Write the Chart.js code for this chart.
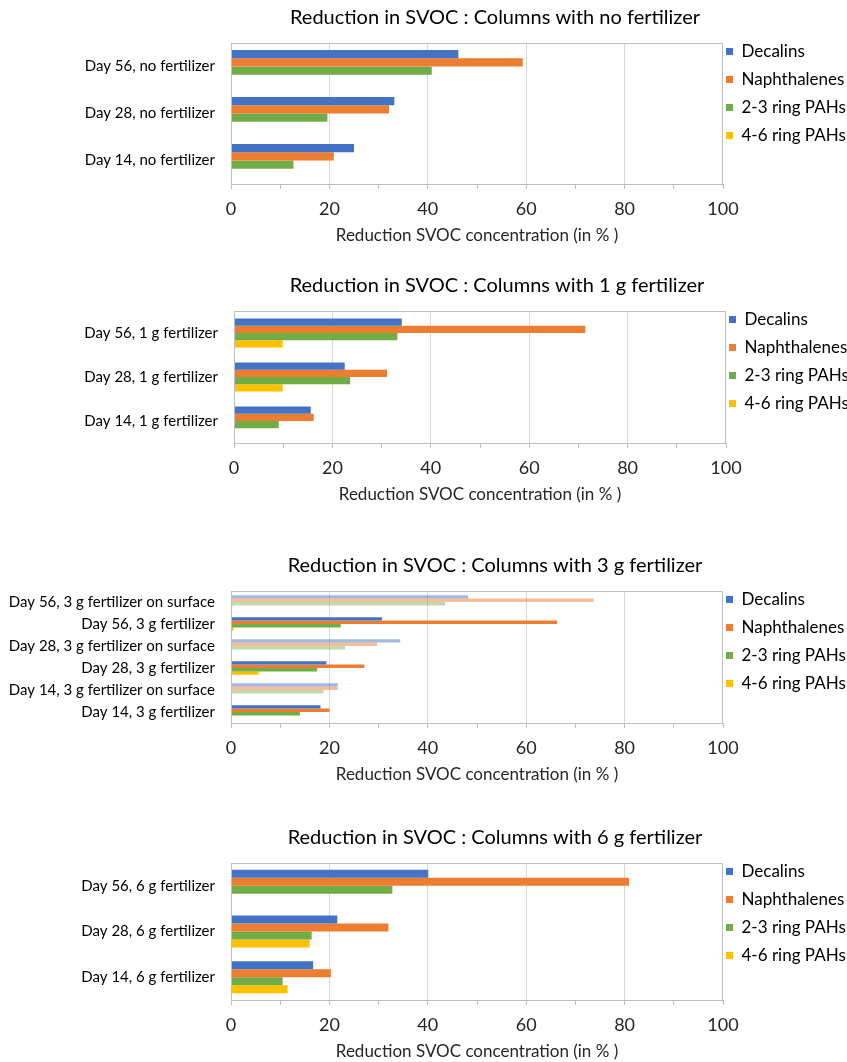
<!DOCTYPE html>
<html>
<head>
<meta charset="utf-8">
<title>Reduction in SVOC</title>
<script src="https://cdn.jsdelivr.net/npm/chart.js@4.4.1/dist/chart.umd.min.js"></script>
<style>
  html, body { margin: 0; padding: 0; background: #ffffff; overflow: hidden; width: 847px; height: 1062px; }
  canvas { position: absolute; left: 0; }
</style>
</head>
<body>
<canvas id="chartNone" width="990" height="250" style="top:0px"></canvas>
<canvas id="chart1g" width="994" height="241" style="top:268px"></canvas>
<canvas id="chart3g" width="990" height="241" style="top:548px"></canvas>
<canvas id="chart6g" width="990" height="246" style="top:820px"></canvas>
<script>
"use strict";

const seriesNames = ["Decalins", "Naphthalenes", "2-3 ring PAHs", "4-6 ring PAHs"];
const seriesColors = ["#4472C4", "#ED7D31", "#70AD47", "#FFC000"];
const seriesLight = ["rgba(68,114,196,0.5)", "rgba(237,125,49,0.5)", "rgba(112,173,71,0.45)", "rgba(255,192,0,0.5)"];
const xTickLabels = [0, 20, 40, 60, 80, 100];
const xAxisTitle = "Reduction SVOC concentration (in % )";

// no fertilizer
const labelsNone = ["Day 56, no fertilizer", "Day 28, no fertilizer", "Day 14, no fertilizer"];
const decalinsNone = [46.2, 33.2, 25.0];
const naphNone = [59.3, 32.1, 20.9];
const pah23None = [40.8, 19.6, 12.7];
const pah46None = [0, 0, 0];

// 1 g fertilizer
const labels1g = ["Day 56, 1 g fertilizer", "Day 28, 1 g fertilizer", "Day 14, 1 g fertilizer"];
const decalins1g = [34.1, 22.5, 15.6];
const naph1g = [71.4, 31.1, 16.2];
const pah23_1g = [33.2, 23.6, 9.1];
const pah46_1g = [9.9, 9.9, 0];

// 3 g fertilizer
const labels3g = [
    "Day 56, 3 g fertilizer on surface",
    "Day 56, 3 g fertilizer",
    "Day 28, 3 g fertilizer on surface",
    "Day 28, 3 g fertilizer",
    "Day 14, 3 g fertilizer on surface",
    "Day 14, 3 g fertilizer",
];
const decalins3g = [48.2, 30.7, 34.4, 19.4, 21.7, 18.2];
const naph3g = [73.7, 66.3, 29.7, 27.1, 21.7, 20.0];
const pah23_3g = [43.5, 22.3, 23.2, 17.5, 18.8, 14.0];
const pah46_3g = [0.3, 0.5, 0, 5.6, 0, 0];

// 6 g fertilizer
const labels6g = ["Day 56, 6 g fertilizer", "Day 28, 6 g fertilizer", "Day 14, 6 g fertilizer"];
const decalins6g = [40.1, 21.6, 16.7];
const naph6g = [80.9, 32.0, 20.3];
const pah23_6g = [32.8, 16.4, 10.5];
const pah46_6g = [0, 16.0, 11.5];

Chart.defaults.font.family = "Lato, 'Open Sans', sans-serif";
Chart.defaults.color = "#262626";

const LEGEND_W = 124;

// grey box round the plot area
const plotFrame = {
    id: "plotFrame",
    afterDraw(chart) {
        const {ctx, chartArea} = chart;
        ctx.save();
        ctx.strokeStyle = "#bfbfbf";
        ctx.lineWidth = 1;
        ctx.strokeRect(Math.round(chartArea.left) + 0.5, Math.round(chartArea.top) + 0.5,
            Math.round(chartArea.width) - 1, Math.round(chartArea.height));
        ctx.restore();
    }
};

// put the legend right next to the plot, top aligned
const legendNudge = {
    id: "legendNudge",
    afterLayout(chart, args, opts) {
        const lg = chart.legend;
        const h = lg.bottom - lg.top;
        lg.left = chart.chartArea.right + opts.gap - lg.options.labels.padding;
        lg.right = lg.left + 300;
        lg.top = opts.top;
        lg.bottom = lg.top + h;
    }
};

const isSurface = (label) => label.indexOf("on surface") !== -1;

const buildChart = (canvasId, title, labels, values, plotLeft, plotRight, catPct) => {
    const canvas = document.getElementById(canvasId);
    const spacer = canvas.width - plotRight - LEGEND_W;
    return new Chart(canvas, {
        type: "bar",
        data: {
            labels: labels,
            datasets: seriesNames.map((name, i) => ({
                label: name,
                data: values[i],
                backgroundColor: (ctx) => {
                    if (ctx.type === "data" && isSurface(labels[ctx.dataIndex])) {
                        return seriesLight[i];
                    }
                    return seriesColors[i];
                },
                borderWidth: 0,
                barPercentage: 1,
                categoryPercentage: catPct,
            })),
        },
        options: {
            indexAxis: "y",
            responsive: false,
            animation: false,
            layout: {padding: 0},
            scales: {
                x: {
                    min: 0,
                    max: 100,
                    afterFit: (scale) => { scale.height = 66; },
                    ticks: {
                        stepSize: 10,
                        autoSkip: false,
                        maxRotation: 0,
                        padding: 9,
                        font: {size: 18},
                        callback: (v) => xTickLabels.includes(v) ? v : "",
                    },
                    grid: {
                        color: (ctx) => (ctx.tick && ctx.tick.value % 20 === 0 && ctx.tick.value > 0 && ctx.tick.value < 100) ? "#d9d9d9" : "rgba(0,0,0,0)",
                        tickColor: "#bfbfbf",
                        tickLength: 5,
                    },
                    border: {display: false},
                    title: {
                        display: true,
                        text: xAxisTitle,
                        font: {size: 17},
                        padding: {top: 0, bottom: 4},
                    },
                },
                y: {
                    afterFit: (scale) => { scale.width = plotLeft; },
                    ticks: {
                        autoSkip: false,
                        padding: 16,
                        font: {size: 15},
                        color: "#000000",
                    },
                    grid: {display: false, drawTicks: false},
                    border: {display: false},
                },
                // empty strip that keeps the title centred where it is in the original
                spacer: {
                    type: "linear",
                    position: "right",
                    display: true,
                    afterFit: (scale) => { scale.width = spacer; },
                    ticks: {display: false},
                    grid: {display: false, drawTicks: false},
                    border: {display: false},
                },
            },
            plugins: {
                title: {
                    display: true,
                    text: title,
                    color: "#000000",
                    font: {size: 20, weight: "normal"},
                    padding: {top: 6, bottom: 13},
                },
                legend: {
                    position: "right",
                    align: "start",
                    maxWidth: LEGEND_W,
                    labels: {
                        boxWidth: 7,
                        boxHeight: 7,
                        padding: 11,
                        color: "#000000",
                        font: {size: 17},
                        generateLabels: (chart) => Chart.defaults.plugins.legend.labels.generateLabels(chart)
                            .map((item, i) => Object.assign(item, {fillStyle: seriesColors[i], strokeStyle: seriesColors[i], lineWidth: 0})),
                    },
                },
                tooltip: {enabled: false},
                legendNudge: {gap: 3, top: 32},
            },
        },
        plugins: [plotFrame, legendNudge],
    });
};

buildChart("chartNone", "Reduction in SVOC : Columns with no fertilizer", labelsNone,
    [decalinsNone, naphNone, pah23None, pah46None], 231, 723, 0.70);
buildChart("chart1g", "Reduction in SVOC : Columns with 1 g fertilizer", labels1g,
    [decalins1g, naph1g, pah23_1g, pah46_1g], 234, 726, 0.66);
buildChart("chart3g", "Reduction in SVOC : Columns with 3 g fertilizer", labels3g,
    [decalins3g, naph3g, pah23_3g, pah46_3g], 231, 723, 0.62);
buildChart("chart6g", "Reduction in SVOC : Columns with 6 g fertilizer", labels6g,
    [decalins6g, naph6g, pah23_6g, pah46_6g], 231, 723, 0.70);
</script>
</body>
</html>
